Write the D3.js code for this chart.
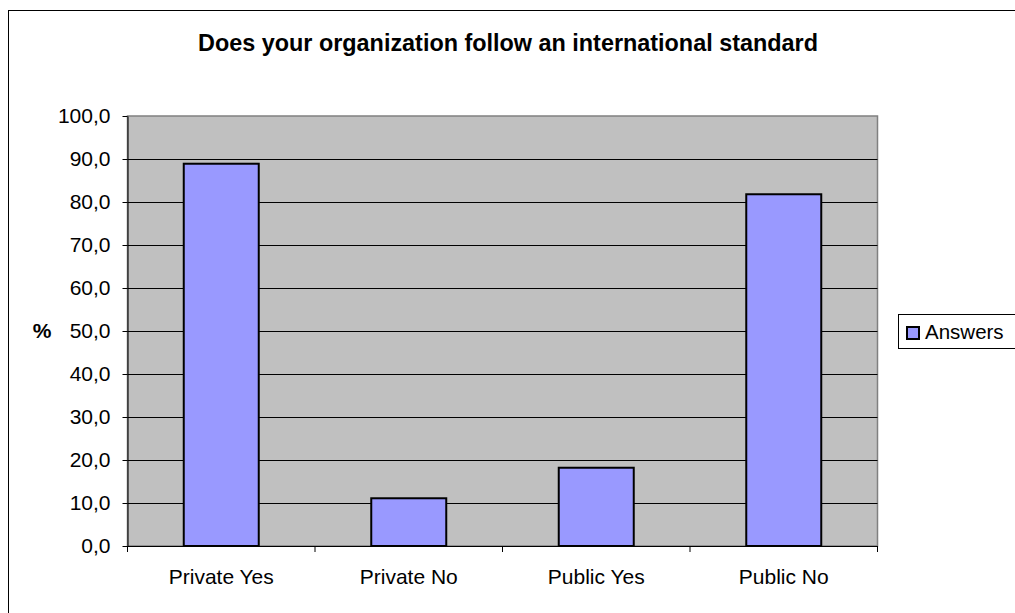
<!DOCTYPE html>
<html>
<head>
<meta charset="utf-8">
<script src="https://cdn.jsdelivr.net/npm/d3@7/dist/d3.min.js"></script>
<style>
  html, body { margin: 0; padding: 0; background: #fff; }
  svg { display: block; font-family: Arial, "Liberation Sans", sans-serif; }
</style>
</head>
<body>
<script>
const title = "Does your organization follow an international standard";
const categories = ["Private Yes", "Private No", "Public Yes", "Public No"];
const answers = [88.9, 11.1, 18.2, 81.8];
const yTicks = [0, 10, 20, 30, 40, 50, 60, 70, 80, 90, 100];
const yLabel = "%";
const seriesName = "Answers";

const W = 1015, H = 613;
const plot = { left: 127.5, top: 116, right: 877.5, bottom: 546 };
const FONT = "Arial, 'Liberation Sans', sans-serif";
const LABEL_SIZE = "21px";

const svg = d3.select("body").append("svg").attr("width", W).attr("height", H);

// chart frame
svg.append("rect").attr("x", 8.5).attr("y", 10.5).attr("width", 1020).attr("height", 620)
  .attr("fill", "#fff").attr("stroke", "#000").attr("stroke-width", 1);

svg.append("text").attr("x", 508).attr("y", 51).attr("text-anchor", "middle")
  .attr("font-weight", "bold").attr("font-size", "23.4px").text(title);

const x = d3.scaleBand().domain(categories).range([plot.left, plot.right]).paddingInner(0).paddingOuter(0);
const y = d3.scaleLinear().domain([0, 100]).range([plot.bottom, plot.top]);

// plot background
svg.append("rect").attr("x", plot.left).attr("y", plot.top)
  .attr("width", plot.right - plot.left).attr("height", plot.bottom - plot.top)
  .attr("fill", "#c0c0c0").attr("stroke", "#808080").attr("stroke-width", 1.5);

// gridlines
svg.append("g").selectAll("line").data(yTicks.filter(d => d > 0 && d < 100)).join("line")
  .attr("x1", plot.left).attr("x2", plot.right)
  .attr("y1", d => Math.round(y(d)) + 0.5).attr("y2", d => Math.round(y(d)) + 0.5)
  .attr("stroke", "#000").attr("stroke-width", 1);

// bars
const barW = x.bandwidth() * 0.4;
svg.append("g").selectAll("rect").data(answers).join("rect")
  .attr("x", (d, i) => x(categories[i]) + (x.bandwidth() - barW) / 2)
  .attr("y", d => y(d))
  .attr("width", barW)
  .attr("height", d => y(0) - y(d))
  .attr("fill", "#9999ff").attr("stroke", "#000").attr("stroke-width", 2);

// y axis
const yAxis = d3.axisLeft(y).tickValues(yTicks).tickSize(5).tickSizeOuter(0)
  .tickFormat(d => d3.format(".1f")(d).replace(".", ","));
const gy = svg.append("g").attr("transform", `translate(${plot.left},0)`).call(yAxis);
gy.attr("font-size", null).attr("font-family", null);
gy.select(".domain").attr("stroke", "#000");
gy.selectAll(".tick line").attr("stroke", "#000");
gy.selectAll(".tick text").style("font-size", LABEL_SIZE).attr("fill", "#000")
  .style("font-family", FONT).attr("x", -17);

// x axis
const xAxis = d3.axisBottom(x).tickSize(0).tickSizeOuter(0);
const gx = svg.append("g").attr("transform", `translate(0,${plot.bottom})`).call(xAxis);
gx.attr("font-size", null).attr("font-family", null);
gx.select(".domain").attr("stroke", "#000");
gx.selectAll(".tick text").style("font-size", LABEL_SIZE).attr("fill", "#000")
  .style("font-family", FONT).attr("y", 23);
// category separator ticks
const bounds = categories.map(c => x(c)).concat([plot.right]);
gx.append("g").selectAll("line").data(bounds).join("line")
  .attr("x1", d => d).attr("x2", d => d).attr("y1", 0).attr("y2", 6)
  .attr("stroke", "#000");

svg.append("text").attr("x", 42).attr("y", 338).attr("text-anchor", "middle")
  .attr("font-weight", "bold").attr("font-size", LABEL_SIZE).text(yLabel);

// legend
const lg = svg.append("g");
lg.append("rect").attr("x", 898.5).attr("y", 314.5).attr("width", 130).attr("height", 34)
  .attr("fill", "#fff").attr("stroke", "#000").attr("stroke-width", 1);
lg.append("rect").attr("x", 907).attr("y", 327).attr("width", 12).attr("height", 12)
  .attr("fill", "#9999ff").attr("stroke", "#000").attr("stroke-width", 2);
lg.append("text").attr("x", 925).attr("y", 339).attr("font-size", "20.5px").text(seriesName);
</script>
</body>
</html>
